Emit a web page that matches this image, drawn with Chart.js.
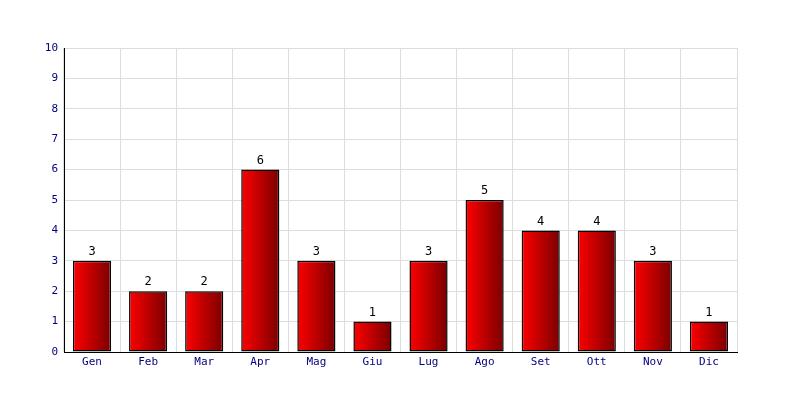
<!DOCTYPE html>
<html>
<head>
<meta charset="utf-8">
<script src="https://cdn.jsdelivr.net/npm/chart.js@4"></script>
<style>
  html, body { margin: 0; padding: 0; background: #fff; }
  #wrap { width: 800px; height: 400px; }
</style>
</head>
<body>
<div id="wrap"><canvas id="c" width="800" height="400"></canvas></div>
<script>
const months = ["Gen", "Feb", "Mar", "Apr", "Mag", "Giu", "Lug", "Ago", "Set", "Ott", "Nov", "Dic"];
const counts = [3, 2, 2, 6, 3, 1, 3, 5, 4, 4, 3, 1];
const yTicks = [0, 1, 2, 3, 4, 5, 6, 7, 8, 9, 10];

const FONT = "'DejaVu Sans Mono', monospace";
const BAR_SHARE = 0.68;

// red -> dark red gradient across each bar, worked out from the x scale
function barFill(context) {
  const chart = context.chart;
  const xs = chart.scales.x;
  if (!chart.chartArea || !xs) return "#c00000";
  const cx = xs.getPixelForValue(context.dataIndex);
  const half = (xs.width / months.length) * BAR_SHARE / 2;
  if (!Number.isFinite(cx) || !Number.isFinite(half)) return "#c00000";
  const g = chart.ctx.createLinearGradient(cx - half, 0, cx + half, 0);
  g.addColorStop(0, "#ff0000");
  g.addColorStop(1, "#7a0000");
  return g;
}

// numbers above the bars
const valueLabels = {
  id: "valueLabels",
  afterDatasetsDraw(chart) {
    const ctx = chart.ctx;
    const meta = chart.getDatasetMeta(0);
    ctx.save();
    ctx.font = "12px " + FONT;
    ctx.fillStyle = "#000";
    ctx.textAlign = "center";
    ctx.textBaseline = "bottom";
    meta.data.forEach((bar, i) => {
      ctx.fillText(String(counts[i]), bar.x, bar.y - 3);
    });
    ctx.restore();
  }
};

new Chart(document.getElementById("c"), {
  type: "bar",
  data: {
    labels: months,
    datasets: [{
      data: counts,
      backgroundColor: barFill,
      borderColor: "#000",
      borderWidth: 1.5,
      borderSkipped: false,
      categoryPercentage: BAR_SHARE,
      barPercentage: 1.0
    }]
  },
  options: {
    responsive: false,
    animation: false,
    devicePixelRatio: 1,
    layout: { padding: { top: 48, right: 63, left: 0, bottom: 0 } },
    scales: {
      x: {
        grid: { color: "#dddddd", drawTicks: false, offset: true },
        border: { color: "#000", width: 1 },
        ticks: { color: "#000080", font: { family: FONT, size: 11 }, padding: 4 },
        afterFit(scale) { scale.height = 48; }
      },
      y: {
        min: 0,
        max: 10,
        afterBuildTicks(scale) { scale.ticks = yTicks.map(v => ({ value: v })); },
        grid: { color: "#dddddd", drawTicks: false },
        border: { color: "#000", width: 1 },
        ticks: { color: "#000080", font: { family: FONT, size: 11 }, padding: 6 },
        afterFit(scale) { scale.width = 64; }
      }
    },
    plugins: {
      legend: { display: false },
      tooltip: { enabled: false }
    }
  },
  plugins: [valueLabels]
});
</script>
</body>
</html>
